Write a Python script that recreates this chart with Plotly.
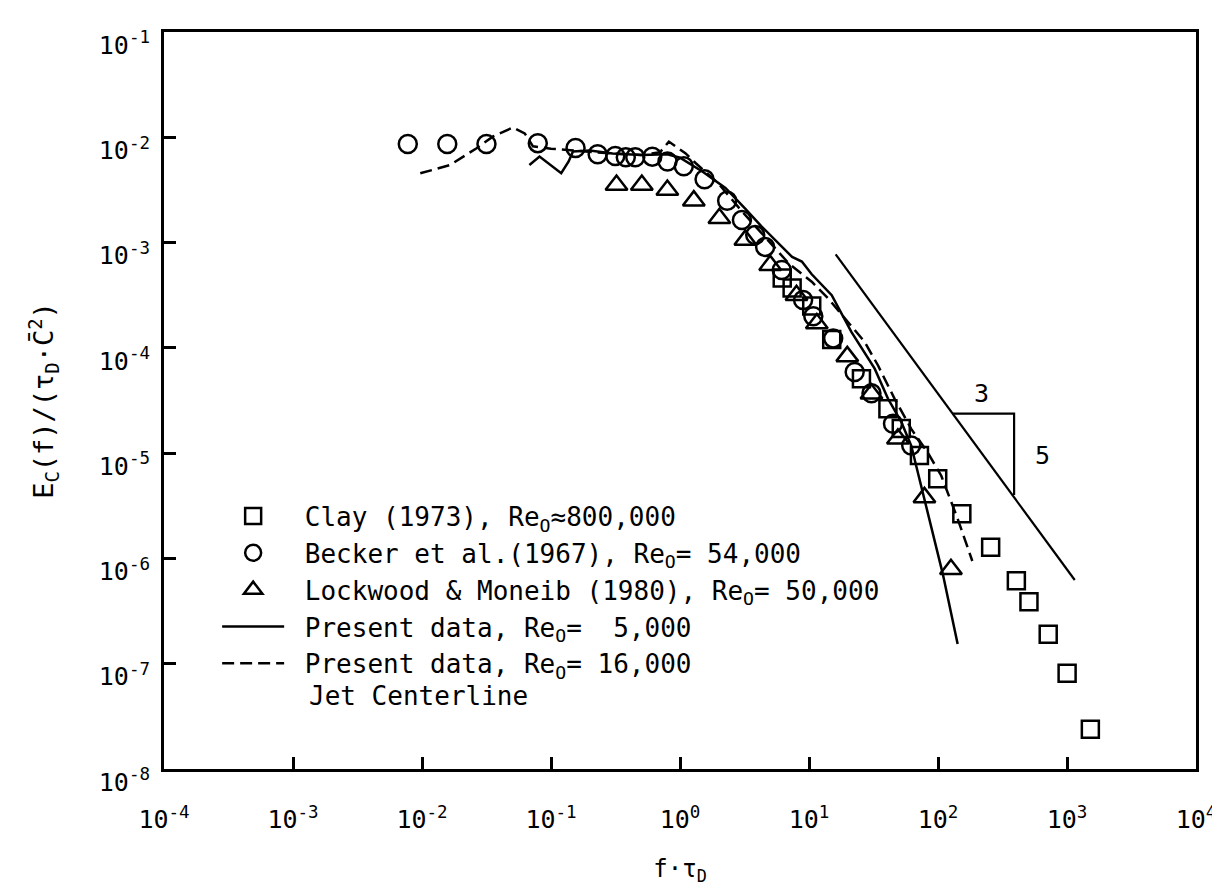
import math
import plotly.graph_objects as go

# ---- data ----
clay_x = [6.2, 7.4, 10.5, 15.0, 25.5, 40.9, 51.9, 71.8, 99.5, 153, 256, 405, 507, 715, 1002, 1517]
clay_y = [4.6e-4, 3.7e-4, 2.5e-4, 1.2e-4, 5.1e-5, 2.64e-5, 1.71e-5, 9.5e-6, 5.7e-6, 2.65e-6,
          1.28e-6, 6.15e-7, 3.88e-7, 1.91e-7, 8.1e-8, 2.39e-8]

becker_x = [0.00776, 0.0157, 0.0316, 0.079, 0.155, 0.23, 0.315, 0.38, 0.45, 0.61, 0.80, 1.07,
            1.55, 2.32, 3.02, 3.83, 4.57, 6.15, 9.0, 10.8, 15.4, 22.6, 30.5, 44.8, 62]
becker_y = [8.65e-3, 8.65e-3, 8.65e-3, 8.8e-3, 7.9e-3, 6.9e-3, 6.65e-3, 6.45e-3, 6.45e-3, 6.55e-3,
            5.9e-3, 5.3e-3, 4.0e-3, 2.5e-3, 1.64e-3, 1.18e-3, 9.1e-4, 5.5e-4, 2.85e-4, 2.0e-4,
            1.23e-4, 5.9e-5, 3.7e-5, 1.9e-5, 1.18e-5]

lock_x = [0.322, 0.506, 0.798, 1.28, 2.02, 3.21, 5.0, 8.0, 11.5, 19.8, 30.5, 48.9, 78.5, 126]
lock_y = [3.52e-3, 3.52e-3, 3.16e-3, 2.5e-3, 1.7e-3, 1.06e-3, 6.1e-4, 3.16e-4, 1.7e-4, 8.3e-5,
          3.67e-5, 1.37e-5, 3.8e-6, 7.9e-7]

re5000_x = [0.068, 0.0815, 0.120, 0.137, 0.148, 0.2, 0.3, 0.5, 0.8, 1.0, 1.5, 2.25, 3.2, 4.3,
            7.4, 8.8, 10.5, 15.0, 21.3, 32.3, 40.9, 51.9, 62, 74, 109, 142]
re5000_y = [5.45e-3, 6.56e-3, 4.55e-3, 5.89e-3, 7.33e-3, 7.5e-3, 7.0e-3, 6.8e-3, 6.9e-3, 6.4e-3,
            4.7e-3, 3.3e-3, 2.1e-3, 1.42e-3, 7.3e-4, 6.6e-4, 5.0e-4, 3.16e-4, 1.42e-4, 6.35e-5,
            3.3e-5, 1.98e-5, 1.18e-5, 4.9e-6, 7.1e-7, 1.54e-7]

re16000_x = [0.0097, 0.0165, 0.0265, 0.0356, 0.0508, 0.0625, 0.0725, 0.1, 0.15, 0.3, 0.5, 0.7,
             0.82, 1.1, 1.32, 2.0, 3.0, 5.0, 7.0, 10.5, 14.1, 27, 34.3, 46, 62, 83, 106, 142, 184.5]
re16000_y = [4.55e-3, 5.45e-3, 7.87e-3, 1.02e-2, 1.24e-2, 1.09e-2, 8.2e-3, 7.8e-3, 7.5e-3, 7.0e-3,
             6.8e-3, 7.2e-3, 9.1e-3, 7.06e-3, 5.7e-3, 3.6e-3, 2.0e-3, 1.0e-3, 6.3e-4, 4.25e-4,
             2.94e-4, 1.14e-4, 6.8e-5, 3.3e-5, 1.7e-5, 1.02e-5, 6.1e-6, 2.38e-6, 9.46e-7]

slope_x = [16.1, 1148]
slope_y = [7.73e-4, 6.24e-7]
tri_x = [130, 389, 389]
tri_y = [2.37e-5, 2.37e-5, 4.0e-6]
slope_labels = [("3", 216, 3.67e-5), ("5", 640, 9.4e-6)]

x_tickvals = [1e-4, 1e-3, 1e-2, 1e-1, 1e0, 1e1, 1e2, 1e3, 1e4]
x_ticktext = ["10<sup>-4</sup>", "10<sup>-3</sup>", "10<sup>-2</sup>", "10<sup>-1</sup>",
              "10<sup>0</sup>", "10<sup>1</sup>", "10<sup>2</sup>", "10<sup>3</sup>", "10<sup>4</sup>"]
y_tickvals = [1e-8, 1e-7, 1e-6, 1e-5, 1e-4, 1e-3, 1e-2, 1e-1]
y_ticktext = ["10<sup>-8</sup>", "10<sup>-7</sup>", "10<sup>-6</sup>", "10<sup>-5</sup>",
              "10<sup>-4</sup>", "10<sup>-3</sup>", "10<sup>-2</sup>", "10<sup>-1</sup>"]

FONT = "DejaVu Sans Mono"
BLACK = "black"

fig = go.Figure()

# lines first (drawn underneath markers)
fig.add_trace(go.Scatter(x=re5000_x, y=re5000_y, mode="lines",
                         name=" Present data, Re<sub>O</sub>=  5,000", legendrank=4,
                         line=dict(color=BLACK, width=2.5)))
fig.add_trace(go.Scatter(x=re16000_x, y=re16000_y, mode="lines",
                         name=" Present data, Re<sub>O</sub>= 16,000", legendrank=5,
                         line=dict(color=BLACK, width=2.5, dash="12px,6px")))
fig.add_trace(go.Scatter(x=slope_x, y=slope_y, mode="lines", showlegend=False,
                         line=dict(color=BLACK, width=2.2)))
fig.add_trace(go.Scatter(x=tri_x, y=tri_y, mode="lines", showlegend=False,
                         line=dict(color=BLACK, width=2.2)))

fig.add_trace(go.Scatter(x=clay_x, y=clay_y, mode="markers",
                         name=" Clay (1973), Re<sub>O</sub>≈800,000", legendrank=1,
                         marker=dict(symbol="square-open", size=17, color=BLACK,
                                     line=dict(width=2.5, color=BLACK))))
fig.add_trace(go.Scatter(x=becker_x, y=becker_y, mode="markers",
                         name=" Becker et al.(1967), Re<sub>O</sub>= 54,000", legendrank=2,
                         marker=dict(symbol="circle-open", size=18, color=BLACK,
                                     line=dict(width=2.5, color=BLACK))))
fig.add_trace(go.Scatter(x=lock_x, y=lock_y, mode="markers",
                         name=" Lockwood & Moneib (1980), Re<sub>O</sub>= 50,000", legendrank=3,
                         marker=dict(symbol="triangle-up-open", size=19, color=BLACK,
                                     line=dict(width=2.5, color=BLACK))))

annotations = []
for txt, ax_, ay_ in slope_labels:
    annotations.append(dict(x=math.log10(ax_), y=math.log10(ay_), xref="x", yref="y",
                            text=txt, showarrow=False,
                            font=dict(family=FONT, size=25, color=BLACK)))
annotations.append(dict(x=0.1389, y=0.099, xref="paper", yref="paper", xanchor="left",
                        yanchor="middle", text="Jet Centerline", showarrow=False,
                        font=dict(family=FONT, size=26, color=BLACK)))

axis_common = dict(type="log", showgrid=False, zeroline=False, showline=True,
                   linecolor=BLACK, linewidth=3, mirror=True, ticks="inside",
                   ticklen=12, tickwidth=2.5, tickcolor=BLACK, tickmode="array",
                   ticklabeloverflow="allow",
                   tickfont=dict(family=FONT, size=25, color=BLACK))

fig.update_xaxes(range=[-4, 4], tickvals=x_tickvals, ticktext=x_ticktext,
                 ticklabelstandoff=26,
                 title=dict(text="f·τ<sub>D</sub>", standoff=28,
                            font=dict(family=FONT, size=24, color=BLACK)),
                 **axis_common)
fig.update_yaxes(range=[-8, -1], tickvals=y_tickvals, ticktext=y_ticktext,
                 ticklabelstandoff=6, ticklabelshift=13,
                 title=dict(text="E<sub>C</sub>(f)/(τ<sub>D</sub>·C\u0304<sup>2</sup>)", standoff=38,
                            font=dict(family=FONT, size=27, color=BLACK)),
                 **axis_common)

fig.update_layout(
    width=1220, height=888,
    margin=dict(l=156, r=27, t=24, b=127),
    paper_bgcolor="white", plot_bgcolor="white",
    font=dict(family=FONT, color=BLACK),
    showlegend=True,
    legend=dict(x=0.0515, y=0.375, xanchor="left", yanchor="top",
                bgcolor="rgba(0,0,0,0)", borderwidth=0,
                font=dict(family=FONT, size=26, color=BLACK),
                itemwidth=62, tracegroupgap=0, traceorder="normal"),
    annotations=annotations,
)

fig.write_html("out.html")
